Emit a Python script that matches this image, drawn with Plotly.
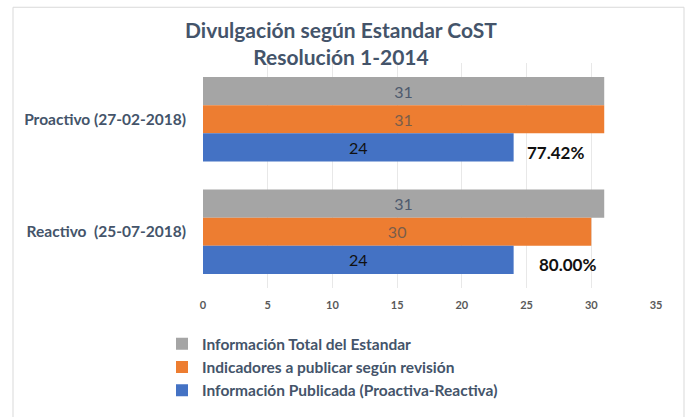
import plotly.graph_objects as go

categories = ["Proactivo (27-02-2018)", "Reactivo\u00a0 (25-07-2018)"]
total_estandar = [31, 31]
indicadores = [31, 30]
publicada = [24, 24]
series_names = [
    "Información Total del Estandar",
    "Indicadores a publicar según revisión",
    "Información Publicada (Proactiva-Reactiva)",
]
x_ticks = [0, 5, 10, 15, 20, 25, 30, 35]
title_lines = ["Divulgación según Estandar CoST", "Resolución 1-2014"]

FONT = "Lato, 'Open Sans', sans-serif"
TXT = "#44546a"

fig = go.Figure()
styles = [
    ("#a5a5a5", "#4d5a6e"),
    ("#ed7d31", "#7a5d4a"),
    ("#4472c4", "#111111"),
]
for name, vals, (col, tcol) in zip(series_names, [total_estandar, indicadores, publicada], styles):
    fig.add_trace(go.Bar(
        y=categories, x=vals, name="<b>" + name + "</b>", orientation="h",
        marker=dict(color=col, line=dict(width=0)),
        text=[str(v) for v in vals], textposition="inside",
        insidetextanchor="middle",
        textfont=dict(family=FONT, size=16, color=tcol),
        hoverinfo="skip",
    ))

# percentage labels computed from data
pct_shift = [0.9, 1.8]
for i, (p, ind) in enumerate(zip(publicada, indicadores)):
    fig.add_annotation(
        x=p + pct_shift[i], y=i + 0.25, xref="x", yref="y",
        text="<b>%.2f%%</b>" % (100.0 * p / ind), showarrow=False,
        xanchor="left", yanchor="middle", yshift=-5,
        font=dict(family=FONT, size=17, color="#111111"),
    )

# outer chart border
L, R, T, B = 203.0, 656.0, 62.75, 287.75
W, H = R - L, B - T
def px(xp): return (xp - L) / W
def py(yp): return (B - yp) / H
fig.add_shape(type="rect", xref="paper", yref="paper",
              x0=px(13), x1=px(684), y0=py(430), y1=py(7),
              line=dict(color="#d9d9d9", width=1), fillcolor="rgba(0,0,0,0)", layer="below")

# title as annotation
fig.add_annotation(
    x=px(341), y=py(43), xref="paper", yref="paper",
    text="<b>" + "<br>".join(title_lines) + "</b>", showarrow=False,
    xanchor="center", yanchor="middle", align="center",
    font=dict(family=FONT, size=21, color=TXT),
)

fig.update_layout(
    width=687, height=417,
    margin=dict(l=L, r=687 - R, t=T, b=417 - B, pad=0, autoexpand=False),
    paper_bgcolor="white", plot_bgcolor="white",
    barmode="group", bargap=0.25, bargroupgap=0,
    xaxis=dict(
        range=[0, 35], tickvals=x_ticks, ticktext=["<b>%d</b>" % t for t in x_ticks],
        showgrid=True, gridcolor="#e8e8e8", gridwidth=1, zeroline=False,
        showline=False, ticks="", ticklabelstandoff=9,
        tickfont=dict(family=FONT, size=11, color="#595959"),
        fixedrange=True, automargin=False,
    ),
    yaxis=dict(
        autorange="reversed", showgrid=False, zeroline=False, showline=False,
        ticks="", ticklabelstandoff=16, automargin=False,
        ticktext=["<b>%s</b>" % c for c in categories], tickvals=categories,
        tickfont=dict(family=FONT, size=15.5, color=TXT),
    ),
    legend=dict(
        orientation="v", x=px(162), xref="paper", xanchor="left",
        y=py(327), yanchor="top",
        font=dict(family=FONT, size=15.5, color=TXT),
        bgcolor="rgba(0,0,0,0)",
        tracegroupgap=0, itemwidth=30,
    ),
    showlegend=True,
)

fig.write_html("out.html", config={"displayModeBar": False},
               post_script="document.body.style.margin='0';document.body.style.padding='0';")
